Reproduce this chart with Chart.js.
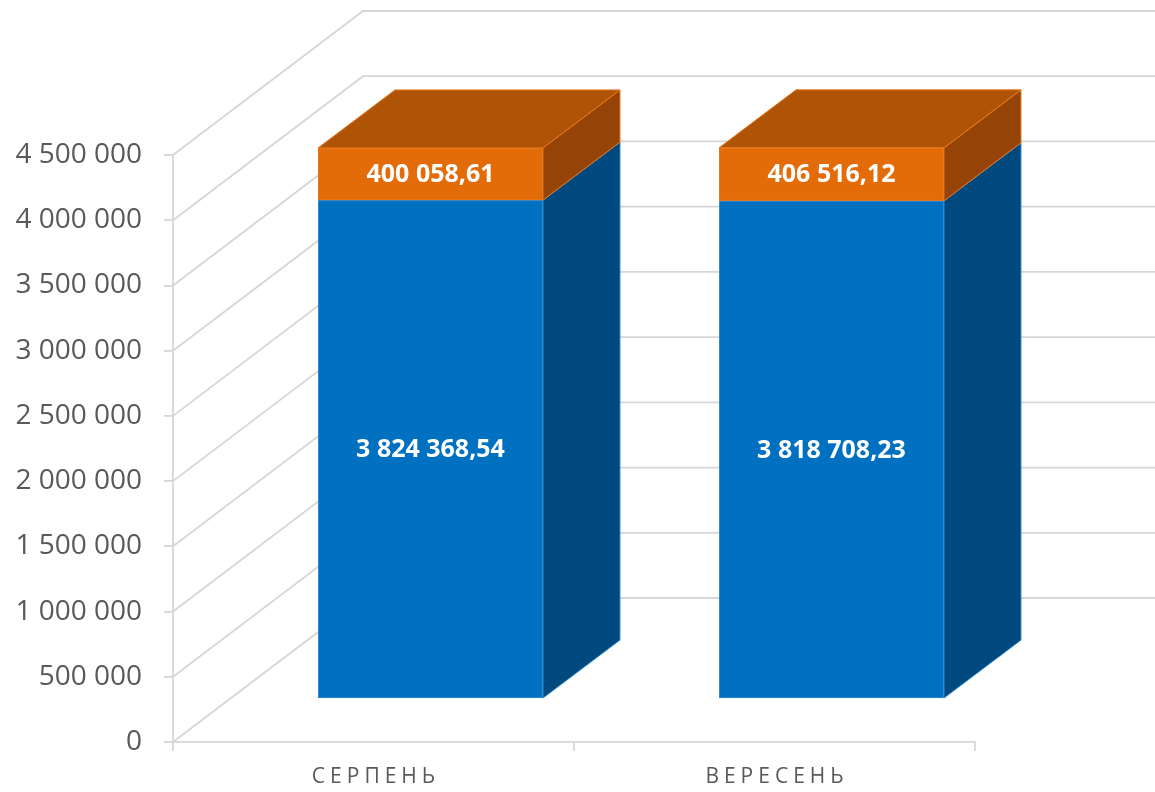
<!DOCTYPE html>
<html>
<head>
<meta charset="utf-8">
<script src="https://cdn.jsdelivr.net/npm/chart.js@4.4.0/dist/chart.umd.min.js"></script>
<style>
  html, body { margin: 0; padding: 0; background: #ffffff; }
  #wrap { width: 1155px; height: 792px; position: relative; }
</style>
</head>
<body>
<div id="wrap"><canvas id="c"></canvas></div>
<script>
// ---- data ----
const categories = ['СЕРПЕНЬ', 'ВЕРЕСЕНЬ'];
const seriesBlue = [3824368.54, 3818708.23];
const seriesOrange = [400058.61, 406516.12];
const yMin = 0;
const yMax = 4500000;
const yStep = 500000;

// ---- styles / geometry ----
const GRID = '#d6d6d6';
const TEXT = '#595959';
const FRONT = { dx: 57, dy: -43 };   // bar plane offset from the front axis plane
const DEPTH = { dx: 77, dy: -58 };   // bar depth
const WALL = { dx: 190, dy: -144 };  // back wall offset
const colors = [
  { front: '#0070C0', side: '#00497E', top: '#005A9A', edge: '#2E8AD3' },
  { front: '#E36C09', side: '#954306', top: '#AF5306', edge: '#E8771B' }
];

function fmtInt(v) {
  return String(Math.round(v)).replace(/\B(?=(\d{3})+(?!\d))/g, ' ');
}
function fmtDec(v) {
  const parts = v.toFixed(2).split('.');
  return fmtInt(Number(parts[0])) + ',' + parts[1];
}

const threeD = {
  id: 'threeD',
  beforeDatasetsDraw(chart) {
    const ctx = chart.ctx;
    const ys = chart.scales.y;
    const area = chart.chartArea;
    ctx.save();
    ctx.strokeStyle = GRID;
    ctx.lineWidth = 1.8;
    ys.ticks.forEach(t => {
      const y = ys.getPixelForValue(t.value);
      ctx.beginPath();
      ctx.moveTo(area.left, y);
      ctx.lineTo(area.left + WALL.dx, y + WALL.dy);
      ctx.lineTo(chart.width + 5, y + WALL.dy);
      ctx.stroke();
    });
    ctx.restore();
    ctx.save();
    ctx.translate(FRONT.dx, FRONT.dy);
  },
  afterDatasetsDraw(chart) {
    const ctx = chart.ctx;
    ctx.restore();
    const nDs = chart.data.datasets.length;
    chart.data.datasets.forEach((ds, di) => {
      const meta = chart.getDatasetMeta(di);
      const c = colors[di];
      meta.data.forEach((bar) => {
        const p = bar.getProps(['x', 'y', 'base', 'width'], true);
        const l = p.x - p.width / 2 + FRONT.dx;
        const r = p.x + p.width / 2 + FRONT.dx;
        const top = Math.min(p.y, p.base) + FRONT.dy;
        const bot = Math.max(p.y, p.base) + FRONT.dy;
        ctx.save();
        ctx.lineWidth = 1;
        ctx.strokeStyle = c.edge;
        ctx.beginPath();
        ctx.moveTo(r, top);
        ctx.lineTo(r + DEPTH.dx, top + DEPTH.dy);
        ctx.lineTo(r + DEPTH.dx, bot + DEPTH.dy);
        ctx.lineTo(r, bot);
        ctx.closePath();
        ctx.fillStyle = c.side;
        ctx.fill();
        ctx.stroke();
        if (di === nDs - 1) {
          ctx.beginPath();
          ctx.moveTo(l, top);
          ctx.lineTo(r, top);
          ctx.lineTo(r + DEPTH.dx, top + DEPTH.dy);
          ctx.lineTo(l + DEPTH.dx, top + DEPTH.dy);
          ctx.closePath();
          ctx.fillStyle = c.top;
          ctx.fill();
          ctx.stroke();
        }
        ctx.strokeRect(l + 0.5, top + 0.5, r - l - 1, bot - top - 1);
        ctx.restore();
      });
    });
    ctx.save();
    ctx.fillStyle = '#ffffff';
    ctx.font = 'bold 25px "Open Sans"';
    ctx.textAlign = 'center';
    ctx.textBaseline = 'middle';
    chart.data.datasets.forEach((ds, di) => {
      const meta = chart.getDatasetMeta(di);
      meta.data.forEach((bar, i) => {
        const p = bar.getProps(['x', 'y', 'base'], true);
        ctx.fillText(fmtDec(ds.data[i]), p.x + FRONT.dx, (p.y + p.base) / 2 + FRONT.dy + 1);
      });
    });
    ctx.restore();
  },
  afterDraw(chart) {
    const ctx = chart.ctx;
    const xs = chart.scales.x;
    ctx.save();
    ctx.fillStyle = TEXT;
    ctx.font = '21px "Open Sans"';
    ctx.textAlign = 'center';
    ctx.textBaseline = 'middle';
    const sp = 5;
    ctx.letterSpacing = sp + 'px';
    chart.data.labels.forEach((lab, i) => {
      ctx.fillText(lab, xs.getPixelForValue(i) + sp / 2, 777);
    });
    ctx.restore();
  }
};

new Chart(document.getElementById('c'), {
  type: 'bar',
  data: {
    labels: categories,
    datasets: [
      { label: 'blue', data: seriesBlue, backgroundColor: colors[0].front, borderWidth: 0,
        categoryPercentage: 1, barPercentage: 0.561, clip: false },
      { label: 'orange', data: seriesOrange, backgroundColor: colors[1].front, borderWidth: 0,
        categoryPercentage: 1, barPercentage: 0.561, clip: false }
    ]
  },
  options: {
    responsive: true,
    maintainAspectRatio: false,
    animation: false,
    events: [],
    layout: { padding: { top: 155, right: 180, left: 0, bottom: 0 } },
    plugins: { legend: { display: false }, tooltip: { enabled: false } },
    scales: {
      x: {
        stacked: true,
        grid: { display: true, drawOnChartArea: false, drawTicks: true, tickLength: 9, color: GRID, lineWidth: 1.8, offset: true },
        border: { display: true, color: GRID, width: 1.8 },
        ticks: { display: false },
        afterFit(s) { s.height = 50; }
      },
      y: {
        stacked: true,
        min: yMin,
        max: yMax,
        grid: { display: true, drawOnChartArea: false, drawTicks: true, tickLength: 9, color: GRID, lineWidth: 1.8 },
        border: { display: true, color: GRID, width: 1.8 },
        ticks: {
          stepSize: yStep,
          padding: 22,
          color: TEXT,
          font: { family: 'Open Sans', size: 28 },
          callback: (v) => fmtInt(v)
        },
        afterFit(s) { s.width = 173; }
      }
    }
  },
  plugins: [threeD]
});
</script>
</body>
</html>
